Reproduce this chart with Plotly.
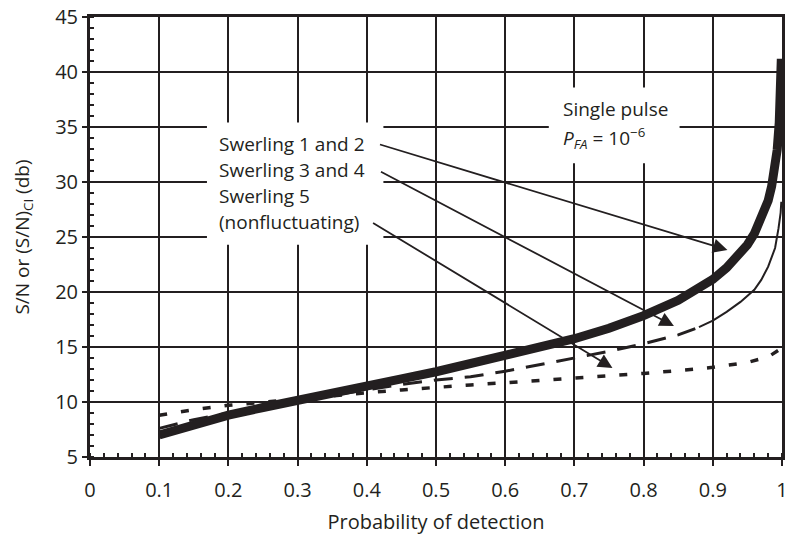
import plotly.graph_objects as go

INK = "#231f20"
FONT = "Open Sans"

# ---- data ----
pd_sw1 = [0.1, 0.15, 0.2, 0.25, 0.3, 0.35, 0.4, 0.45, 0.5, 0.55, 0.6, 0.65, 0.7, 0.75,
          0.8, 0.85, 0.9, 0.92, 0.94, 0.95, 0.96, 0.97, 0.98, 0.985, 0.99, 0.993,
          0.996, 0.998, 0.999]
snr_sw1 = [7.0, 8.0, 8.8, 9.5, 10.2, 10.85, 11.5, 12.1, 12.75, 13.45, 14.15, 14.9, 15.75,
           16.7, 17.85, 19.25, 21.15, 22.2, 23.5, 24.3, 25.3, 26.6, 28.3, 29.6, 31.4,
           32.9, 35.4, 38.4, 41.2]

pd_sw3 = [0.1, 0.15, 0.2, 0.25, 0.3, 0.35, 0.4, 0.45, 0.5, 0.55, 0.6, 0.65, 0.7, 0.75,
          0.8, 0.85, 0.88, 0.9, 0.92, 0.94, 0.96, 0.97, 0.98, 0.99, 0.995, 0.998, 0.999]
snr_sw3 = [7.6, 8.4, 9.0, 9.6, 10.1, 10.6, 11.1, 11.6, 12.0, 12.3, 12.8, 13.4, 14.0, 14.6,
           15.3, 16.1, 16.8, 17.4, 18.2, 19.1, 20.2, 21.1, 22.3, 24.0, 25.8, 27.2, 28.2]

pd_sw5 = [0.1, 0.15, 0.2, 0.25, 0.3, 0.35, 0.4, 0.45, 0.5, 0.55, 0.6, 0.65, 0.7, 0.75,
          0.8, 0.85, 0.9, 0.95, 0.98, 0.995, 0.999]
snr_sw5 = [8.8, 9.3, 9.7, 10.0, 10.3, 10.6, 10.85, 11.1, 11.35, 11.55, 11.75, 11.95, 12.15,
           12.35, 12.6, 12.85, 13.15, 13.6, 14.1, 14.7, 15.0]

x_ticks = [0, 0.1, 0.2, 0.3, 0.4, 0.5, 0.6, 0.7, 0.8, 0.9, 1]
x_tick_text = ["0", "0.1", "0.2", "0.3", "0.4", "0.5", "0.6", "0.7", "0.8", "0.9", "1"]
y_ticks = [5, 10, 15, 20, 25, 30, 35, 40, 45]

label_lines = ["Swerling 1 and 2", "Swerling 3 and 4", "Swerling 5", "(nonfluctuating)"]
single_pulse_lines = ["Single pulse", "<i>P</i><sub><i>FA</i></sub> = 10<sup>\u22126</sup>"]

split = pd_sw3.index(0.88)

fig = go.Figure()
fig.add_trace(go.Scatter(x=pd_sw5, y=snr_sw5, mode="lines",
                         line=dict(color=INK, width=3.5, dash="8px,14px")))
fig.add_trace(go.Scatter(x=pd_sw3[:split + 1], y=snr_sw3[:split + 1], mode="lines",
                         line=dict(color=INK, width=3, dash="19px,12px")))
fig.add_trace(go.Scatter(x=pd_sw3[split:], y=snr_sw3[split:], mode="lines",
                         line=dict(color=INK, width=2)))
fig.add_trace(go.Scatter(x=pd_sw1, y=snr_sw1, mode="lines",
                         line=dict(color=INK, width=9)))

# white label boxes (hide gridlines behind text)
fig.add_shape(type="rect", xref="x", yref="y", x0=0.169, x1=0.424, y0=24.3, y1=35.4,
              fillcolor="white", line=dict(width=0), layer="above")
fig.add_shape(type="rect", xref="x", yref="y", x0=0.663, x1=0.852, y0=31.7, y1=38.6,
              fillcolor="white", line=dict(width=0), layer="above")

label_y = [33.45, 31.1, 28.75, 26.4]
for t, yy in zip(label_lines, label_y):
    fig.add_annotation(x=0.184, y=yy, xref="x", yref="y", text=t, showarrow=False,
                       xanchor="left", yanchor="middle",
                       font=dict(family=FONT, size=19, color=INK))
for t, yy in zip(single_pulse_lines, [36.6, 34.0]):
    fig.add_annotation(x=0.681, y=yy, xref="x", yref="y", text=t, showarrow=False,
                       xanchor="left", yanchor="middle",
                       font=dict(family=FONT, size=19, color=INK))

arrows = [((0.4169, 33.45), (0.9212, 23.82)),
          ((0.4183, 31.0), (0.8438, 16.91)),
          ((0.4069, 26.36), (0.755, 13.09))]
for (tx, ty), (hx, hy) in arrows:
    fig.add_annotation(x=hx, y=hy, ax=tx, ay=ty, xref="x", yref="y", axref="x", ayref="y",
                       text="", showarrow=True, arrowhead=2, arrowsize=1.6,
                       arrowwidth=1.8, arrowcolor=INK, standoff=0)

fig.update_layout(
    width=791, height=537,
    margin=dict(l=90, r=3, t=17, b=80),
    paper_bgcolor="white", plot_bgcolor="white",
    showlegend=False,
    font=dict(family=FONT, size=20, color=INK),
    xaxis=dict(range=[0, 1], tickvals=x_ticks, ticktext=x_tick_text,
               showgrid=True, gridcolor=INK, gridwidth=2, zeroline=False,
               showline=True, linecolor=INK, linewidth=3, mirror=True,
               ticks="outside", ticklen=6, tickwidth=2, tickcolor=INK,
               ticklabelstandoff=7,
               minor=dict(dtick=0.02, ticks="inside", ticklen=4, tickwidth=2,
                          tickcolor=INK, showgrid=False),
               title=dict(text="Probability of detection", standoff=13,
                          font=dict(family=FONT, size=20, color=INK)),
               tickfont=dict(family=FONT, size=20, color=INK)),
    yaxis=dict(range=[5, 45], tickvals=y_ticks,
               showgrid=True, gridcolor=INK, gridwidth=2, zeroline=False,
               showline=True, linecolor=INK, linewidth=3, mirror=True,
               ticks="outside", ticklen=5, tickwidth=2, tickcolor=INK,
               minor=dict(dtick=1, ticks="inside", ticklen=4, tickwidth=2,
                          tickcolor=INK, showgrid=False),
               title=dict(text="S/N or (S/N)<sub>CI</sub> (db)", standoff=21,
                          font=dict(family=FONT, size=19, color=INK)),
               tickfont=dict(family=FONT, size=20, color=INK)),
)

fig.write_html("out.html")
